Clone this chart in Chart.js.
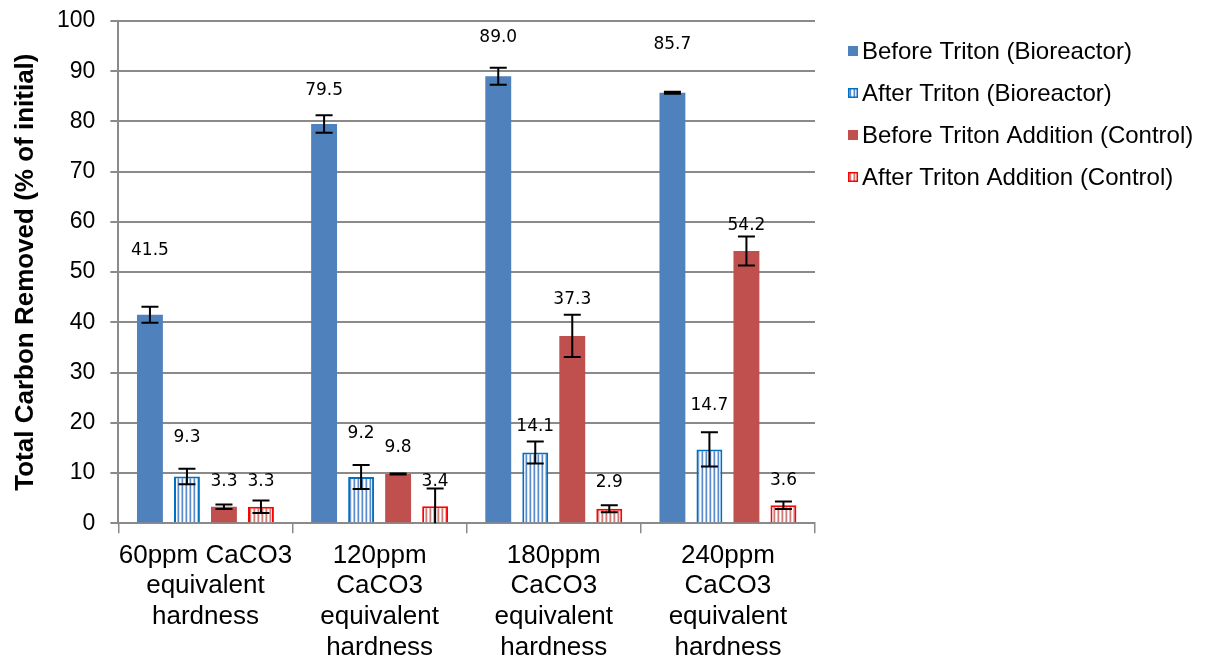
<!DOCTYPE html>
<html>
<head>
<meta charset="utf-8">
<script src="https://cdn.jsdelivr.net/npm/chart.js@4.4.1/dist/chart.umd.min.js"></script>
<style>
  html, body { margin: 0; padding: 0; background: #ffffff; }
  #wrap { width: 1210px; height: 659px; position: relative; }
</style>
</head>
<body>
<div id="wrap"><canvas id="c" width="1210" height="659"></canvas></div>
<script>
// ---- data ----
const categories = [
  ["60ppm CaCO3", "equivalent", "hardness"],
  ["120ppm", "CaCO3", "equivalent", "hardness"],
  ["180ppm", "CaCO3", "equivalent", "hardness"],
  ["240ppm", "CaCO3", "equivalent", "hardness"]
];
const seriesNames = [
  "Before Triton (Bioreactor)",
  "After Triton (Bioreactor)",
  "Before Triton Addition (Control)",
  "After Triton Addition (Control)"
];
const beforeBio  = [41.5, 79.5, 89.0, 85.7];
const afterBio   = [9.3, 9.2, 14.1, 14.7];
const beforeCtrl = [3.3, 9.8, 37.3, 54.2];
const afterCtrl  = [3.3, 3.4, 2.9, 3.6];

const errBeforeBio  = [1.6, 1.75, 1.7, 0.2];
const errAfterBio   = [1.55, 2.4, 2.2, 3.4];
const errBeforeCtrl = [0.45, 0.1, 4.2, 2.9];
const errAfterCtrl  = [1.25, 3.5, 0.7, 0.75];

// value-axis level at which each data label sits
const labelLevelBeforeBio  = [54.2, 86.2, 96.6, 95.3];
const labelLevelAfterBio   = [17.1, 17.9, 19.2, 23.4];
const labelLevelBeforeCtrl = [8.4, 15.1, 44.6, 59.3];
const labelLevelAfterCtrl  = [8.4, 8.4, 8.1, 8.6];

const yTicks = [0, 10, 20, 30, 40, 50, 60, 70, 80, 90, 100];

// ---- styles ----
function stripePattern(cols) {
  const c = document.createElement('canvas');
  c.width = cols.length; c.height = 4;
  const g = c.getContext('2d');
  cols.forEach((col, i) => { g.fillStyle = col; g.fillRect(i, 0, 1, 4); });
  return g.createPattern(c, 'repeat');
}
const ctx = document.getElementById('c').getContext('2d');
const bluePattern = stripePattern(['#ffffff', '#a9c6e8', '#5a8acb', '#dde9f6']);
const redPattern = stripePattern(['#ffffff', '#e8b4b2', '#cf7a77', '#f4d8d7']);

const errs = [errBeforeBio, errAfterBio, errBeforeCtrl, errAfterCtrl];
const labelLevels = [labelLevelBeforeBio, labelLevelAfterBio, labelLevelBeforeCtrl, labelLevelAfterCtrl];

const overlayPlugin = {
  id: 'overlay',
  afterDatasetsDraw(chart) {
    const c = chart.ctx;
    const y = chart.scales.y;
    c.save();
    // error bars
    chart.data.datasets.forEach((ds, di) => {
      const meta = chart.getDatasetMeta(di);
      meta.data.forEach((bar, i) => {
        const v = ds.data[i], e = errs[di][i];
        const yt = y.getPixelForValue(v + e);
        const yb = y.getPixelForValue(Math.max(v - e, 0));
        const x = bar.x;
        c.strokeStyle = '#000000';
        c.lineWidth = 2;
        c.beginPath();
        c.moveTo(x, yt); c.lineTo(x, yb);
        c.moveTo(x - 8.5, yt); c.lineTo(x + 8.5, yt);
        if (v - e >= 0) { c.moveTo(x - 8.5, yb); c.lineTo(x + 8.5, yb); }
        c.stroke();
      });
    });
    // data labels
    c.fillStyle = '#000000';
    c.font = '17px "DejaVu Sans", sans-serif';
    c.textAlign = 'center';
    c.textBaseline = 'middle';
    chart.data.datasets.forEach((ds, di) => {
      const meta = chart.getDatasetMeta(di);
      meta.data.forEach((bar, i) => {
        c.fillText(ds.data[i].toFixed(1), bar.x, y.getPixelForValue(labelLevels[di][i]));
      });
    });
    c.restore();
  },
  afterDraw(chart) {
    // legend (right side, top aligned)
    const c = chart.ctx;
    const area = chart.chartArea;
    const boxX = area.right + 33;
    const textX = boxX + 14;
    const rowH = 42;
    const firstY = area.top + 30;
    c.save();
    c.font = '24px "Liberation Sans", Arial, sans-serif';
    c.textAlign = 'left';
    c.textBaseline = 'middle';
    chart.data.datasets.forEach((ds, i) => {
      const cy = firstY + i * rowH;
      c.fillStyle = ds.backgroundColor;
      c.fillRect(boxX, cy - 5, 10, 10);
      if (ds.borderWidth) {
        c.strokeStyle = ds.borderColor;
        c.lineWidth = 1.5;
        c.strokeRect(boxX + 0.75, cy - 4.25, 8.5, 8.5);
      }
      c.fillStyle = '#000000';
      c.fillText(ds.label, textX, cy + 1);
    });
    c.restore();
  }
};

const gridColor = '#8a8a8a';

new Chart(ctx, {
  type: 'bar',
  data: {
    labels: categories,
    datasets: [
      { label: seriesNames[0], data: beforeBio, backgroundColor: '#4f81bd', borderWidth: 0 },
      { label: seriesNames[1], data: afterBio, backgroundColor: bluePattern, borderColor: '#0070c0', borderWidth: 2 },
      { label: seriesNames[2], data: beforeCtrl, backgroundColor: '#c0504d', borderWidth: 0 },
      { label: seriesNames[3], data: afterCtrl, backgroundColor: redPattern, borderColor: '#ff0000', borderWidth: 2 }
    ]
  },
  options: {
    responsive: false,
    animation: false,
    devicePixelRatio: 1,
    categoryPercentage: 0.85,
    barPercentage: 0.7,
    layout: { padding: { left: 13, right: 395, top: 20, bottom: -11 } },
    font: { family: '"Liberation Sans", Arial, sans-serif' },
    plugins: {
      tooltip: { enabled: false },
      legend: { display: false }
    },
    scales: {
      x: {
        grid: { display: true, drawOnChartArea: false, drawTicks: true, tickLength: 10, color: gridColor, lineWidth: 1.5, offset: true },
        border: { display: true, color: gridColor, width: 2 },
        ticks: {
          color: '#000000',
          maxRotation: 0,
          minRotation: 0,
          autoSkip: false,
          padding: 7,
          font: { family: '"Liberation Sans", Arial, sans-serif', size: 26, lineHeight: 1.18 }
        }
      },
      y: {
        min: 0,
        max: 100,
        afterBuildTicks(scale) { scale.ticks = yTicks.map(v => ({ value: v })); },
        grid: { color: gridColor, lineWidth: 2, tickLength: 8, drawTicks: true },
        border: { display: true, color: gridColor, width: 2 },
        ticks: {
          color: '#000000',
          padding: 15,
          font: { family: '"Liberation Sans", Arial, sans-serif', size: 23, lineHeight: 0.52 }
        },
        title: {
          display: true,
          text: 'Total Carbon Removed (% of initial)',
          color: '#000000',
          padding: { top: 0, bottom: 3 },
          font: { family: '"Liberation Sans", Arial, sans-serif', size: 26, weight: 'bold', lineHeight: 1.0 }
        }
      }
    }
  },
  plugins: [overlayPlugin]
});
</script>
</body>
</html>
